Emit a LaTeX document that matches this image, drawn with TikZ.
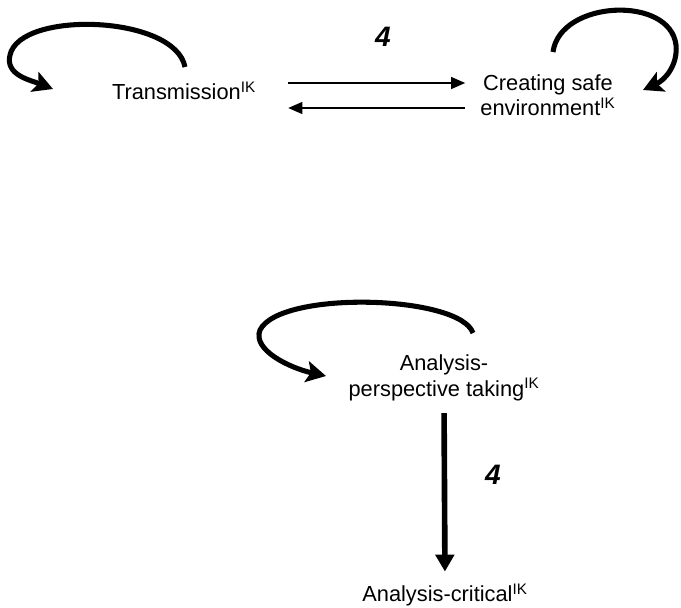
\documentclass[tikz,border=0pt]{standalone}
\usepackage{fontspec}
\setmainfont{Liberation Sans}
\usetikzlibrary{arrows.meta}

\tikzset{
  actbox/.style={font=\fontsize{15.5}{18}\selectfont, align=center, inner sep=0pt},
  weight/.style={font=\fontsize{20}{22}\selectfont\bfseries\itshape, inner sep=0pt},
  selfloop/.style={line width=3.6pt, -{Stealth[length=14pt,width=15pt,inset=3pt]}},
  thinarrow/.style={line width=1pt, -{Triangle[length=10pt,width=8.5pt]}},
  thickarrow/.style={line width=4pt, -{Triangle[length=12pt,width=13pt]}},
}

\begin{document}
\begin{tikzpicture}[x=0.025cm, y=-0.025cm]
  \useasboundingbox (0,0) rectangle (681,607);

  % activities
  \node[actbox] (trans) at (184,91) {Transmission\textsuperscript{IK}};
  \node[actbox] (safe) at (548,95) {Creating safe\\environment\textsuperscript{IK}};
  \node[actbox] (persp) at (444,378) {Analysis-\\perspective taking\textsuperscript{IK}};
  \node[actbox] (crit) at (445,595) {Analysis-critical\textsuperscript{IK}};

  % weights
  \node[weight] (wtop) at (383,37) {4};
  \node[weight] (wbot) at (493,475) {4};

  % loop ends
  \coordinate (transA) at (185,67);
  \coordinate (transB) at (53,89);
  \coordinate (safeA) at (553,52);
  \coordinate (safeB) at (643,90);
  \coordinate (perspA) at (473,333);
  \coordinate (perspB) at (326,376);

  % self loops
  \draw[selfloop] (transA) .. controls (175,15) and (20,10) .. (10,55)
                  .. controls (5,75) and (30,80) .. (transB);
  \draw[selfloop] (safeA) .. controls (560,0) and (670,-5) .. (676,45)
                  .. controls (678,65) and (665,80) .. (safeB);
  \draw[selfloop] (perspA) .. controls (460,295) and (280,290) .. (260,330)
                  .. controls (252,350) and (290,368) .. (perspB);

  % transitions
  \draw[thinarrow, shorten <=0.8cm, shorten >=0.375cm] (trans.east |- 0,83) -- (safe.west |- 0,83);
  \draw[thinarrow, shorten <=0.375cm, shorten >=0.8cm] (safe.west |- 0,108) -- (trans.east |- 0,108);
  \draw[thickarrow, shorten <=0.3cm, shorten >=0.3cm] (persp.south) -- (crit.north);
\end{tikzpicture}
\end{document}
